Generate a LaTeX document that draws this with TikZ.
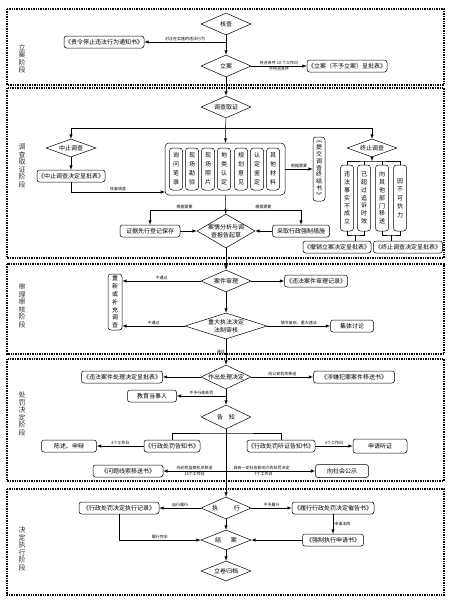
\documentclass[tikz,border=0pt]{standalone}
\usepackage{fontspec}
\setmainfont{Noto Sans CJK SC}
\usetikzlibrary{shapes.geometric}

\tikzset{
  stage/.style={align=center, font=\fontsize{7}{7.5}\selectfont, text=black!80},
  part/.style={line width=1.5pt, dash pattern=on 1.4pt off 1pt},
  box/.style={draw, rounded corners=2.5pt, minimum height=12pt, inner sep=1pt, font=\fontsize{6}{7}\selectfont},
  vbox/.style={draw, rounded corners=3pt, inner sep=0pt, align=center, font=\fontsize{6}{9}\selectfont},
  dia/.style={draw, diamond, minimum width=50pt, minimum height=22pt, inner sep=0pt, align=center, font=\fontsize{6}{7.5}\selectfont},
  lab/.style={font=\fontsize{4}{4}\selectfont, inner sep=1pt},
}
\newcommand{\dt}[1]{\makebox[0pt]{#1}}

\begin{document}
\begin{tikzpicture}[x=1pt, y=-1pt, line width=0.5pt, >=latex]
    \useasboundingbox (0,0) rectangle (450,600);
    % stages
    \draw[part] (7,9) rectangle (444,85);
    \draw[part] (7,88) rectangle (444,258);
    \draw[part] (7,264) rectangle (444,354);
    \draw[part] (7,359) rectangle (444,481);
    \draw[part] (7,489) rectangle (444,595);
    \node[stage] (s1) at (22,59) {立\\案\\阶\\段};
    \node[stage] (s2) at (22,166) {调\\查\\取\\证\\阶\\段};
    \node[stage] (s3) at (22,306) {审\\理\\审\\核\\阶\\段};
    \node[stage] (s4) at (22,414) {处\\罚\\决\\定\\阶\\段};
    \node[stage] (s5) at (22,549) {决\\定\\执\\行\\阶\\段};

    % 立案
    \node[dia] (a1) at (226,24) {\dt{核查}};
    \node[dia] (a2) at (226,66) {\dt{立案}};
    \node[box, minimum width=78pt] (a3) at (104,42) {《责令停止违法行为通知书》};
    \node[box, minimum width=75pt] (a4) at (347,66) {《立案（不予立案）呈批表》};
    \coordinate (a5) at (226,42);
    \draw[->] (a1) -- (a2);
    \draw[->] (a5) -- node[lab, above] {对正在实施的违法行为} (a3);
    \draw[->] (a2) -- node[lab, above] {符合条件 10 个工作日} node[lab, below] {不符合条件} (a4);

    % 调查取证
    \node[dia] (b1) at (226,107) {\dt{调查取证}};
    \node[dia, minimum height=18pt] (b2) at (71,148) {\dt{中止调查}};
    \node[box, minimum width=65pt] (b3) at (71,176) {《中止调查决定呈批表》};
    \node[draw, rounded corners=4pt, minimum width=120pt, minimum height=52pt] (b4) at (225,169) {};
    \node[vbox, minimum width=13pt, minimum height=42pt] (m1) at (176,169) {询\\问\\笔\\录};
    \node[vbox, minimum width=13pt, minimum height=42pt] (m2) at (192,169) {现\\场\\勘\\验};
    \node[vbox, minimum width=13pt, minimum height=42pt] (m3) at (208,169) {现\\场\\照\\片};
    \node[vbox, minimum width=13pt, minimum height=42pt] (m4) at (224,169) {地\\类\\认\\定};
    \node[vbox, minimum width=13pt, minimum height=42pt] (m5) at (241,169) {规\\划\\意\\见};
    \node[vbox, minimum width=13pt, minimum height=42pt] (m6) at (257,169) {认\\定\\鉴\\定};
    \node[vbox, minimum width=13pt, minimum height=42pt] (m7) at (273,169) {其\\他\\材\\料};
    \node[vbox, minimum width=12pt, minimum height=64pt, font=\fontsize{6}{6.9}\selectfont] (b5) at (319,169) {︽\\提\\交\\调\\查\\终\\结\\书\\︾};
    \node[dia, minimum width=58pt, minimum height=34pt] (b6) at (226,231) {\dt{案情分析与调}\\\dt{查报告起草}};
    \node[box, minimum width=60pt] (b7) at (150,231) {证据先行登记保存};
    \node[box, minimum width=57pt] (b8) at (301,231) {采取行政强制措施};
    \node[dia, minimum height=18pt] (b9) at (372,148) {\dt{终止调查}};
    \node[vbox, minimum width=13pt, minimum height=66pt, font=\fontsize{6}{7.8}\selectfont] (b10) at (347,198) {违\\法\\事\\实\\不\\成\\立};
    \node[vbox, minimum width=13pt, minimum height=66pt, font=\fontsize{6}{7.8}\selectfont] (b11) at (364,198) {已\\超\\过\\追\\诉\\时\\效};
    \node[vbox, minimum width=13pt, minimum height=66pt, font=\fontsize{6}{7.8}\selectfont] (b12) at (382,198) {向\\其\\他\\部\\门\\移\\送};
    \node[vbox, minimum width=13pt, minimum height=66pt, font=\fontsize{6}{8.5}\selectfont] (b13) at (400,198) {因\\不\\可\\抗\\力};
    \node[box, minimum width=65pt] (b14) at (337,247) {《撤销立案决定呈批表》};
    \node[box, minimum width=69pt] (b15) at (408,247) {《终止调查决定呈批表》};
    \coordinate (b16) at (71,128);
    \coordinate (b17) at (372,128);
    \coordinate (b18) at (165,192);
    \coordinate (b19) at (150,210);
    \coordinate (b20) at (301,210);
    \coordinate (b21) at (372,161);
    \coordinate (b22) at (355,235);
    \coordinate (b23) at (391,235);
    \draw[->] (a2) -- (b1);
    \draw[->] (b1) -- (b4);
    \draw (b16) -- (b17);
    \draw[->] (b16) -- (b2);
    \draw[->] (b17) -- (b9);
    \draw[->] (b2) -- (b3);
    \draw[->] (b3) |- node[lab, above, pos=0.75] {恢复调查} (b18);
    \draw[->] (b4) -- node[lab, above] {根据需要} (b5);
    \draw[->] (b4) -- (b6);
    \draw (b19) -- node[lab, above, pos=0.23] {根据需要} node[lab, above, pos=0.75] {根据需要} (b20);
    \draw[->] (b19) -- (b7);
    \draw[->] (b20) -- (b8);
    \draw[->] (b7) -- (b6);
    \draw[->] (b8) -- (b6);
    \draw[->] (b9) -- (b21);
    \draw (b10.north) |- (b21) -| (b13.north);
    \draw (b11.north) -- (b11.north |- b21);
    \draw (b12.north) -- (b12.north |- b21);
    \draw (b10.south) |- (b22) -| (b11.south);
    \draw (b12.south) |- (b23) -| (b13.south);
    \draw (b22) -- (b22 |- b14.north);
    \draw (b23) -- (b23 |- b15.north);

    % 审理审核
    \node[dia] (c1) at (226,281) {\dt{案件审理}};
    \node[box, minimum width=63pt] (c2) at (316,281) {《违法案件审理记录》};
    \node[vbox, minimum width=14pt, minimum height=56pt, font=\fontsize{6}{7.8}\selectfont] (c3) at (115,302) {重\\新\\或\\补\\充\\调\\查};
    \node[dia, minimum width=82pt, minimum height=26pt] (c4) at (226,326) {\dt{重大执法决定}\\\dt{法制审核}};
    \node[box, minimum width=43pt] (c5) at (352,326) {集体讨论};
    \draw[->] (b6) -- (c1);
    \draw[->] (c1) -- (c2);
    \draw[->] (c1) -- node[lab, above] {不通过} (c1 -| c3.east);
    \draw[->] (c1) -- (c4);
    \draw[->] (c4) -- node[lab, above] {不通过} (c4 -| c3.east);
    \draw[->] (c4) -- node[lab, above] {情节复杂、重大违法} (c5);

    % 处罚决定
    \node[dia, minimum height=24pt] (d1) at (226,377) {\dt{作出处理决定}};
    \node[box, minimum width=81pt] (d2) at (122,377) {《违法案件处理决定呈批表》};
    \node[box, minimum width=81pt] (d3) at (354,377) {《涉嫌犯罪案件移送书》};
    \node[box, minimum width=49pt] (d4) at (152,396) {教育当事人};
    \node[dia, minimum height=24pt] (d5) at (226,417) {\dt{告\hspace{6pt}知}};
    \node[box, minimum width=55pt] (d6) at (172,446) {《行政处罚告知书》};
    \node[box, minimum width=68pt] (d7) at (281,446) {《行政处罚听证告知书》};
    \node[box, minimum width=55pt] (d8) at (69,446) {陈述、申辩};
    \node[box, minimum width=54pt, minimum height=14pt] (d9) at (380,446) {申请听证};
    \node[box, minimum width=70pt] (d10) at (128,471) {《问题线索移送书》};
    \node[box, minimum width=53pt, minimum height=13pt] (d11) at (342,471) {向社会公示};
    \coordinate (d12) at (226,396);
    \coordinate (d13) at (226,433);
    \coordinate (d16) at (226,471);
    \draw[->] (c4) -- node[lab, left] {通过} (d1);
    \draw[->] (d1) -- (d2);
    \draw[->] (d1) -- node[lab, above] {向公安机关移送} (d3);
    \draw[->] (d1) -- (d5);
    \draw[->] (d12) -- node[lab, above] {不予行政处罚} (d4);
    \draw (d6.north) |- (d13) -| (d7.north);
    \draw[->] (d6) -- node[lab, above] {3个工作日} (d8);
    \draw[->] (d7) -- node[lab, above] {3个工作日} (d9);
    \draw[->] (d16) -- node[lab, above] {向纪检监察机关移送} node[lab, below] {15个工作日} (d10);
    \draw[->] (d16) -- node[lab, above, pos=0.4] {具有一定社会影响力的处罚决定} node[lab, below, pos=0.42] {7个工作日} (d11);

    % 决定执行
    \node[dia] (e1) at (226,508) {\dt{执\hspace{16pt}行}};
    \node[box, minimum width=80pt] (e2) at (119,508) {《行政处罚决定执行记录》};
    \node[box, minimum width=82pt] (e3) at (333,508) {《履行行政处罚决定催告书》};
    \node[box, minimum width=61pt] (e4) at (333,540) {《强制执行申请书》};
    \node[dia, minimum height=20pt] (e5) at (226,540) {\dt{结\hspace{10pt}案}};
    \node[dia, minimum height=20pt] (e6) at (226,571) {\dt{立卷归档}};
    \draw[->] (d5) -- (e1);
    \draw[->] (e1) -- node[lab, above] {自行履行} (e2);
    \draw[->] (e1) -- node[lab, above] {不予履行} (e3);
    \draw[->] (e3) -- node[lab, right] {申请法院} (e4);
    \draw[->] (e4) -- (e5);
    \draw[->] (e2) |- node[lab, above, pos=0.75] {履行完毕} (e5);
    \draw[->] (e1) -- (e5);
    \draw[->] (e5) -- (e6);
\end{tikzpicture}
\end{document}
